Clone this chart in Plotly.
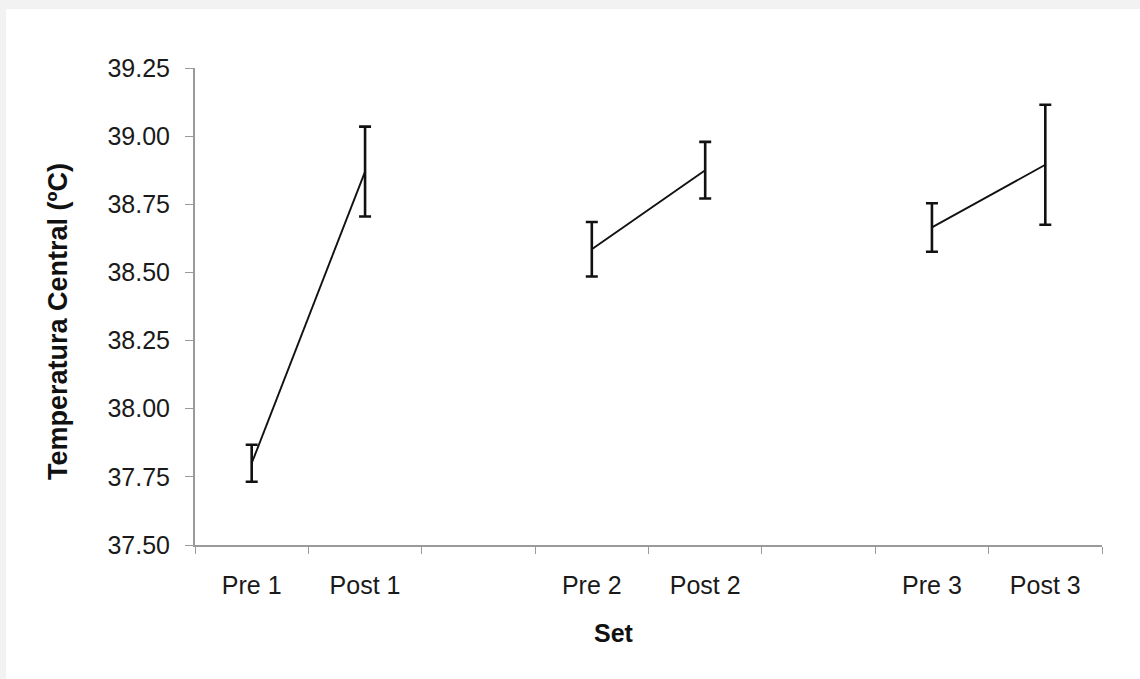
import plotly.graph_objects as go

categories = ["Pre 1", "Post 1", " ", "Pre 2", "Post 2", "  ", "Pre 3", "Post 3"]
means = [37.80, 38.87, None, 38.585, 38.875, None, 38.665, 38.895]
errors = [0.068, 0.165, None, 0.10, 0.104, None, 0.089, 0.22]
y_ticks = [37.50, 37.75, 38.00, 38.25, 38.50, 38.75, 39.00, 39.25]

FONT = "Liberation Sans, Arial, sans-serif"
W, H = 1140, 679
L, R, T, B = 195, 38, 68, 134
pw, ph = W - L - R, H - T - B

fig = go.Figure()
fig.add_trace(go.Scatter(
    x=categories, y=means, mode="lines",
    line=dict(color="#111111", width=1.9),
    connectgaps=False,
    error_y=dict(type="data", array=errors, visible=True,
                 color="#111111", thickness=2.6, width=6),
    showlegend=False, hoverinfo="skip",
))

fig.update_layout(
    width=W, height=H,
    margin=dict(l=L, r=R, t=T, b=B),
    paper_bgcolor="#f2f2f2",
    plot_bgcolor="white",
    font=dict(family=FONT, size=25, color="#1a1a1a"),
    xaxis=dict(
        type="category", categoryorder="array", categoryarray=categories,
        range=[-0.5, 7.5], tickson="boundaries",
        ticks="outside", ticklen=7, tickwidth=1, tickcolor="#9a9a9a",
        showline=True, linecolor="#9a9a9a", linewidth=2,
        showgrid=False, zeroline=False,
        tickfont=dict(family=FONT, size=25, color="#1a1a1a"),
        ticklabelstandoff=17,
    ),
    yaxis=dict(
        range=[37.5, 39.25], tickvals=y_ticks,
        ticktext=[f"{v:.2f}" for v in y_ticks],
        ticks="outside", ticklen=8, tickwidth=1, tickcolor="#9a9a9a",
        showline=True, linecolor="#9a9a9a", linewidth=2,
        showgrid=False, zeroline=False,
        tickfont=dict(family=FONT, size=25, color="#1a1a1a"),
        ticklabelstandoff=10,
    ),
    shapes=[dict(
        type="rect", xref="paper", yref="paper", layer="below",
        x0=(6 - L) / pw, x1=(W + 10 - L) / pw,
        y0=(H - B - (H + 10)) / ph, y1=(H - B - 9) / ph,
        fillcolor="white", line=dict(width=0),
    )],
    annotations=[
        dict(text="<b>Set</b>", xref="paper", yref="paper",
             x=(614 - L) / pw, y=(H - B - 633) / ph,
             xanchor="center", yanchor="middle", showarrow=False,
             font=dict(family=FONT, size=25, color="#111111")),
        dict(text="<b>Temperatura Central (ºC)</b>", xref="paper", yref="paper",
             x=(58 - L) / pw, y=(H - B - 322) / ph, textangle=-90,
             xanchor="center", yanchor="middle", showarrow=False,
             font=dict(family=FONT, size=27, color="#111111")),
    ],
)

fig.write_html(
    "out.html",
    config={"displayModeBar": False},
    post_script="document.body.style.margin='0';document.body.style.padding='0';",
)
